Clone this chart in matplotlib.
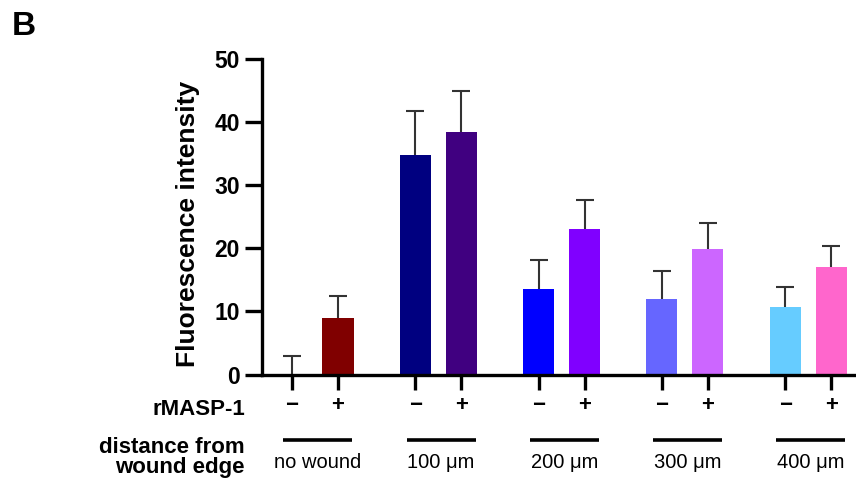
import numpy as np
import matplotlib
matplotlib.use('Agg')
import matplotlib.pyplot as plt
import matplotlib.transforms as mtransforms

plt.rcParams['font.family'] = ['Liberation Sans', 'DejaVu Sans']

# values
groups = ['no wound', '100 μm', '200 μm', '300 μm', '400 μm']
minus_mean = [0.0, 34.8, 13.5, 12.0, 10.7]
minus_err = [3.0, 6.9, 4.6, 4.4, 3.2]
plus_mean = [8.9, 38.5, 23.1, 19.9, 17.0]
plus_err = [3.6, 6.5, 4.5, 4.1, 3.4]
minus_colors = ['#7f7f7f', '#000080', '#0000ff', '#6666ff', '#66ccff']
plus_colors = ['#800000', '#400080', '#8000ff', '#cc66ff', '#ff66cc']

centers = np.arange(len(groups)) * 2.68
xm = centers - 0.5
xp = centers + 0.5
width = 0.674

fig = plt.figure(figsize=(8.56, 4.79), dpi=100)
ax = fig.add_axes([262/856, 104.5/479, 594/856, 315.5/479])

ax.bar(xm, minus_mean, width=width, color=minus_colors, zorder=2)
ax.bar(xp, plus_mean, width=width, color=plus_colors, zorder=2)
err_kw = dict(fmt='none', ecolor='#333333', elinewidth=1.5, capsize=6.5,
              capthick=1.5, zorder=1)
for x, m, e in [(xm, minus_mean, minus_err), (xp, plus_mean, plus_err)]:
    eb = ax.errorbar(x, m, yerr=[np.zeros(len(groups)), e], **err_kw)
    # only the upper cap is shown
    eb[1][0].set_visible(False)

ax.set_xlim(-1.152, 11.76)
ax.set_ylim(0, 50)
ax.set_yticks(np.arange(0, 51, 10))
for lab in ax.get_yticklabels():
    lab.set_fontweight('bold')
ax.tick_params(axis='y', length=12, width=2.4, labelsize=16.5, pad=4)

xt = np.sort(np.concatenate([xm, xp]))
ax.set_xticks(xt)
ax.set_xticklabels(['−', '+'] * len(groups), fontweight='bold')
ax.tick_params(axis='x', length=11, width=2.4, labelsize=16, pad=4)

for s in ['top', 'right']:
    ax.spines[s].set_visible(False)
for s in ['left', 'bottom']:
    ax.spines[s].set_linewidth(2.4)

ax.set_ylabel('Fluorescence intensity', fontsize=19, fontweight='bold', va='center')
ax.yaxis.set_label_coords(-0.1254, 0.477)

# group lines and distance labels under the axis
trans = mtransforms.blended_transform_factory(ax.transData, ax.transAxes)
for c, g in zip(centers, groups):
    ax.plot([c - 0.69, c + 0.81], [-0.2076, -0.2076], transform=trans,
            color='black', lw=2.6, clip_on=False, solid_capstyle='butt')
    ax.text(c + 0.06, -0.2964, g, transform=trans, ha='center', va='baseline',
            fontsize=14.5)

fig.text(245/856, 64/479, 'rMASP-1', ha='right', va='baseline',
         fontsize=16, fontweight='bold')
fig.text(245/856, 26/479, 'distance from', ha='right', va='baseline',
         fontsize=16, fontweight='bold')
fig.text(245/856, 6/479, 'wound edge', ha='right', va='baseline',
         fontsize=16, fontweight='bold')
fig.text(12/856, 444/479, 'B', ha='left', va='baseline',
         fontsize=24, fontweight='bold')

fig.savefig('out.png', dpi=100)
